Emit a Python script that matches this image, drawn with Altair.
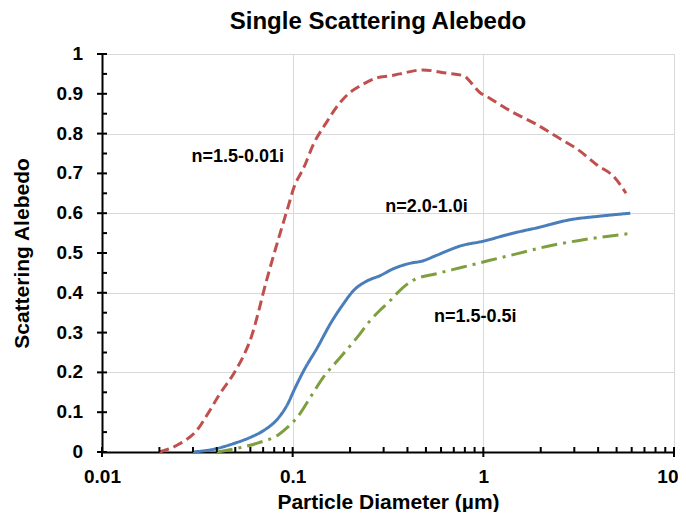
import altair as alt
import pandas as pd

# ---- data ----
red_x = [0.02, 0.0254, 0.0315, 0.0363, 0.041, 0.0495, 0.055, 0.061, 0.066, 0.071, 0.079,
         0.0945, 0.1016, 0.1145, 0.129, 0.149, 0.172, 0.196, 0.226, 0.277, 0.324, 0.365,
         0.48, 0.64, 0.79, 0.873, 0.95, 1.07, 1.41, 1.87, 2.47, 3.13, 3.98, 4.88, 5.6]
red_y = [0, 0.02, 0.055, 0.1, 0.142, 0.2, 0.24, 0.292, 0.35, 0.41, 0.49,
         0.615, 0.665, 0.715, 0.775, 0.825, 0.87, 0.9, 0.92, 0.94, 0.945, 0.95,
         0.96, 0.952, 0.945, 0.925, 0.905, 0.89, 0.855, 0.825, 0.79, 0.76, 0.72, 0.69, 0.65]

blue_x = [0.03, 0.039, 0.0496, 0.0608, 0.071, 0.084, 0.0945, 0.1016, 0.1145, 0.135, 0.158,
          0.185, 0.208, 0.246, 0.287, 0.336, 0.411, 0.48, 0.567, 0.774, 0.984, 1.41, 1.94,
          2.88, 3.98, 5.9]
blue_y = [0, 0.0075, 0.022, 0.038, 0.055, 0.085, 0.122, 0.155, 0.205, 0.263, 0.323,
          0.373, 0.405, 0.43, 0.443, 0.46, 0.474, 0.48, 0.494, 0.519, 0.529, 0.549, 0.564,
          0.584, 0.592, 0.6]

green_x = [0.04, 0.052, 0.066, 0.084, 0.0945, 0.106, 0.124, 0.145, 0.178, 0.218, 0.255,
           0.287, 0.324, 0.351, 0.426, 0.567, 0.774, 1.07, 1.53, 2.27, 3.13, 4.33, 5.9]
green_y = [0, 0.01, 0.023, 0.043, 0.063, 0.088, 0.138, 0.188, 0.238, 0.288, 0.33,
           0.356, 0.38, 0.398, 0.431, 0.448, 0.464, 0.481, 0.499, 0.519, 0.531, 0.541, 0.549]

series_names = ["n=1.5-0.01i", "n=2.0-1.0i", "n=1.5-0.5i"]
series_colors = ["#C0504D", "#4A7EBB", "#7F9F3F"]
series_dashes = [[10, 5], [1, 0], [16, 6, 3, 6]]

label_text = ["n=1.5-0.01i", "n=2.0-1.0i", "n=1.5-0.5i"]
label_x = [0.0515, 0.503, 0.908]
label_y = [0.741, 0.616, 0.339]

x_major = [0.01, 0.1, 1, 10]
x_minor = [0.02, 0.03, 0.04, 0.05, 0.06, 0.07, 0.08, 0.09,
           0.2, 0.3, 0.4, 0.5, 0.6, 0.7, 0.8, 0.9,
           2, 3, 4, 5, 6, 7, 8, 9]
y_major = [0, 0.1, 0.2, 0.3, 0.4, 0.5, 0.6, 0.7, 0.8, 0.9, 1]
y_tick_labels = ["0", "0.1", "0.2", "0.3", "0.4", "0.5", "0.6", "0.7", "0.8", "0.9", "1"]
y_minor = [0.05, 0.15, 0.25, 0.35, 0.45, 0.55, 0.65, 0.75, 0.85, 0.95]

# ---- tables ----
rows = []
for name, xs, ys in zip(series_names, [red_x, blue_x, green_x], [red_y, blue_y, green_y]):
    for i, (a, b) in enumerate(zip(xs, ys)):
        rows.append({"x": a, "y": b, "series": name, "order": i})
df = pd.DataFrame(rows)
labels_df = pd.DataFrame({"x": label_x, "y": label_y, "text": label_text})
xmaj_df = pd.DataFrame({"v": x_major})
xmin_df = pd.DataFrame({"v": x_minor})
ymaj_df = pd.DataFrame({"v": y_major, "t": y_tick_labels})
ymin_df = pd.DataFrame({"v": y_minor})

FONT = "Liberation Sans"
W, H = 572, 398
xscale = alt.Scale(type="log", domain=[0.01, 10], nice=False)
yscale = alt.Scale(domain=[0, 1], nice=False)

last_x = "datum.value == 10"
main_x_axis = alt.Axis(orient="bottom", values=x_major, format="~g", grid=True,
                       gridColor="#D9D9D9", gridWidth=1, ticks=False,
                       domainColor="black", domainWidth=2,
                       labelFont=FONT, labelFontSize=19, labelFontWeight="bold",
                       labelColor="black", labelPadding=15, labelFlush=False,
                       labelOverlap=False,
                       labelAlign=alt.condition(last_x, alt.value("right"), alt.value("center")),
                       labelOffset=alt.condition(last_x, alt.value(4), alt.value(0)),
                       title="Particle Diameter (\u00b5m)", titleFont=FONT,
                       titleFontSize=21, titleFontWeight="bold", titleColor="black",
                       titleBaseline="alphabetic", titleY=56)
main_y_axis = alt.Axis(orient="left", values=y_major, grid=True,
                       gridColor="#D9D9D9", gridWidth=1, ticks=False, labels=False,
                       domainColor="black", domainWidth=2,
                       title="Scattering Alebedo", titleFont=FONT,
                       titleFontSize=21, titleFontWeight="bold", titleColor="black",
                       titleX=-80, titleY=H / 2, titleBaseline="middle")

lines = alt.Chart(df).mark_line(strokeWidth=3, interpolate="monotone").encode(
    x=alt.X("x:Q", scale=xscale, axis=main_x_axis),
    y=alt.Y("y:Q", scale=yscale, axis=main_y_axis),
    color=alt.Color("series:N", scale=alt.Scale(domain=series_names, range=series_colors),
                    legend=None),
    strokeDash=alt.StrokeDash("series:N",
                              scale=alt.Scale(domain=series_names, range=series_dashes),
                              legend=None),
    order="order:Q",
)

texts = alt.Chart(labels_df).mark_text(font=FONT, fontSize=18, fontWeight="bold",
                                       color="black").encode(
    x=alt.X("x:Q", scale=xscale),
    y=alt.Y("y:Q", scale=yscale),
    text="text:N",
)

ylabels = alt.Chart(ymaj_df).mark_text(font=FONT, fontSize=19, fontWeight="bold",
                                       color="black", align="right", baseline="middle",
                                       dx=-19).encode(
    y=alt.Y("v:Q", scale=yscale),
    x=alt.datum(0.01),
    text="t:N",
)

xmaj = alt.Chart(xmaj_df).mark_tick(orient="vertical", size=10, thickness=2,
                                    color="black", opacity=1).encode(
    x=alt.X("v:Q", scale=xscale), y=alt.datum(0))
xmin = alt.Chart(xmin_df).mark_tick(orient="vertical", size=5, thickness=2,
                                    color="black", opacity=1, yOffset=-2.5).encode(
    x=alt.X("v:Q", scale=xscale), y=alt.datum(0))
ymaj = alt.Chart(ymaj_df).mark_tick(orient="horizontal", size=10, thickness=2,
                                    color="black", opacity=1).encode(
    y=alt.Y("v:Q", scale=yscale), x=alt.datum(0.01))
ymin = alt.Chart(ymin_df).mark_tick(orient="horizontal", size=5, thickness=2,
                                    color="black", opacity=1, xOffset=2.5).encode(
    y=alt.Y("v:Q", scale=yscale), x=alt.datum(0.01))

chart = alt.layer(lines, texts, ylabels, xmaj, xmin, ymaj, ymin).properties(
    width=W, height=H,
    autosize="none",
    padding={"left": 94, "top": 46, "right": 4, "bottom": 60},
    title=alt.TitleParams("Single Scattering Alebedo", font=FONT, fontSize=24,
                          fontWeight="bold", color="black", dx=-10, offset=11),
).configure_view(stroke=None).configure(background="white")

chart.save("out.html", embed_options={"renderer": "svg", "actions": False})
